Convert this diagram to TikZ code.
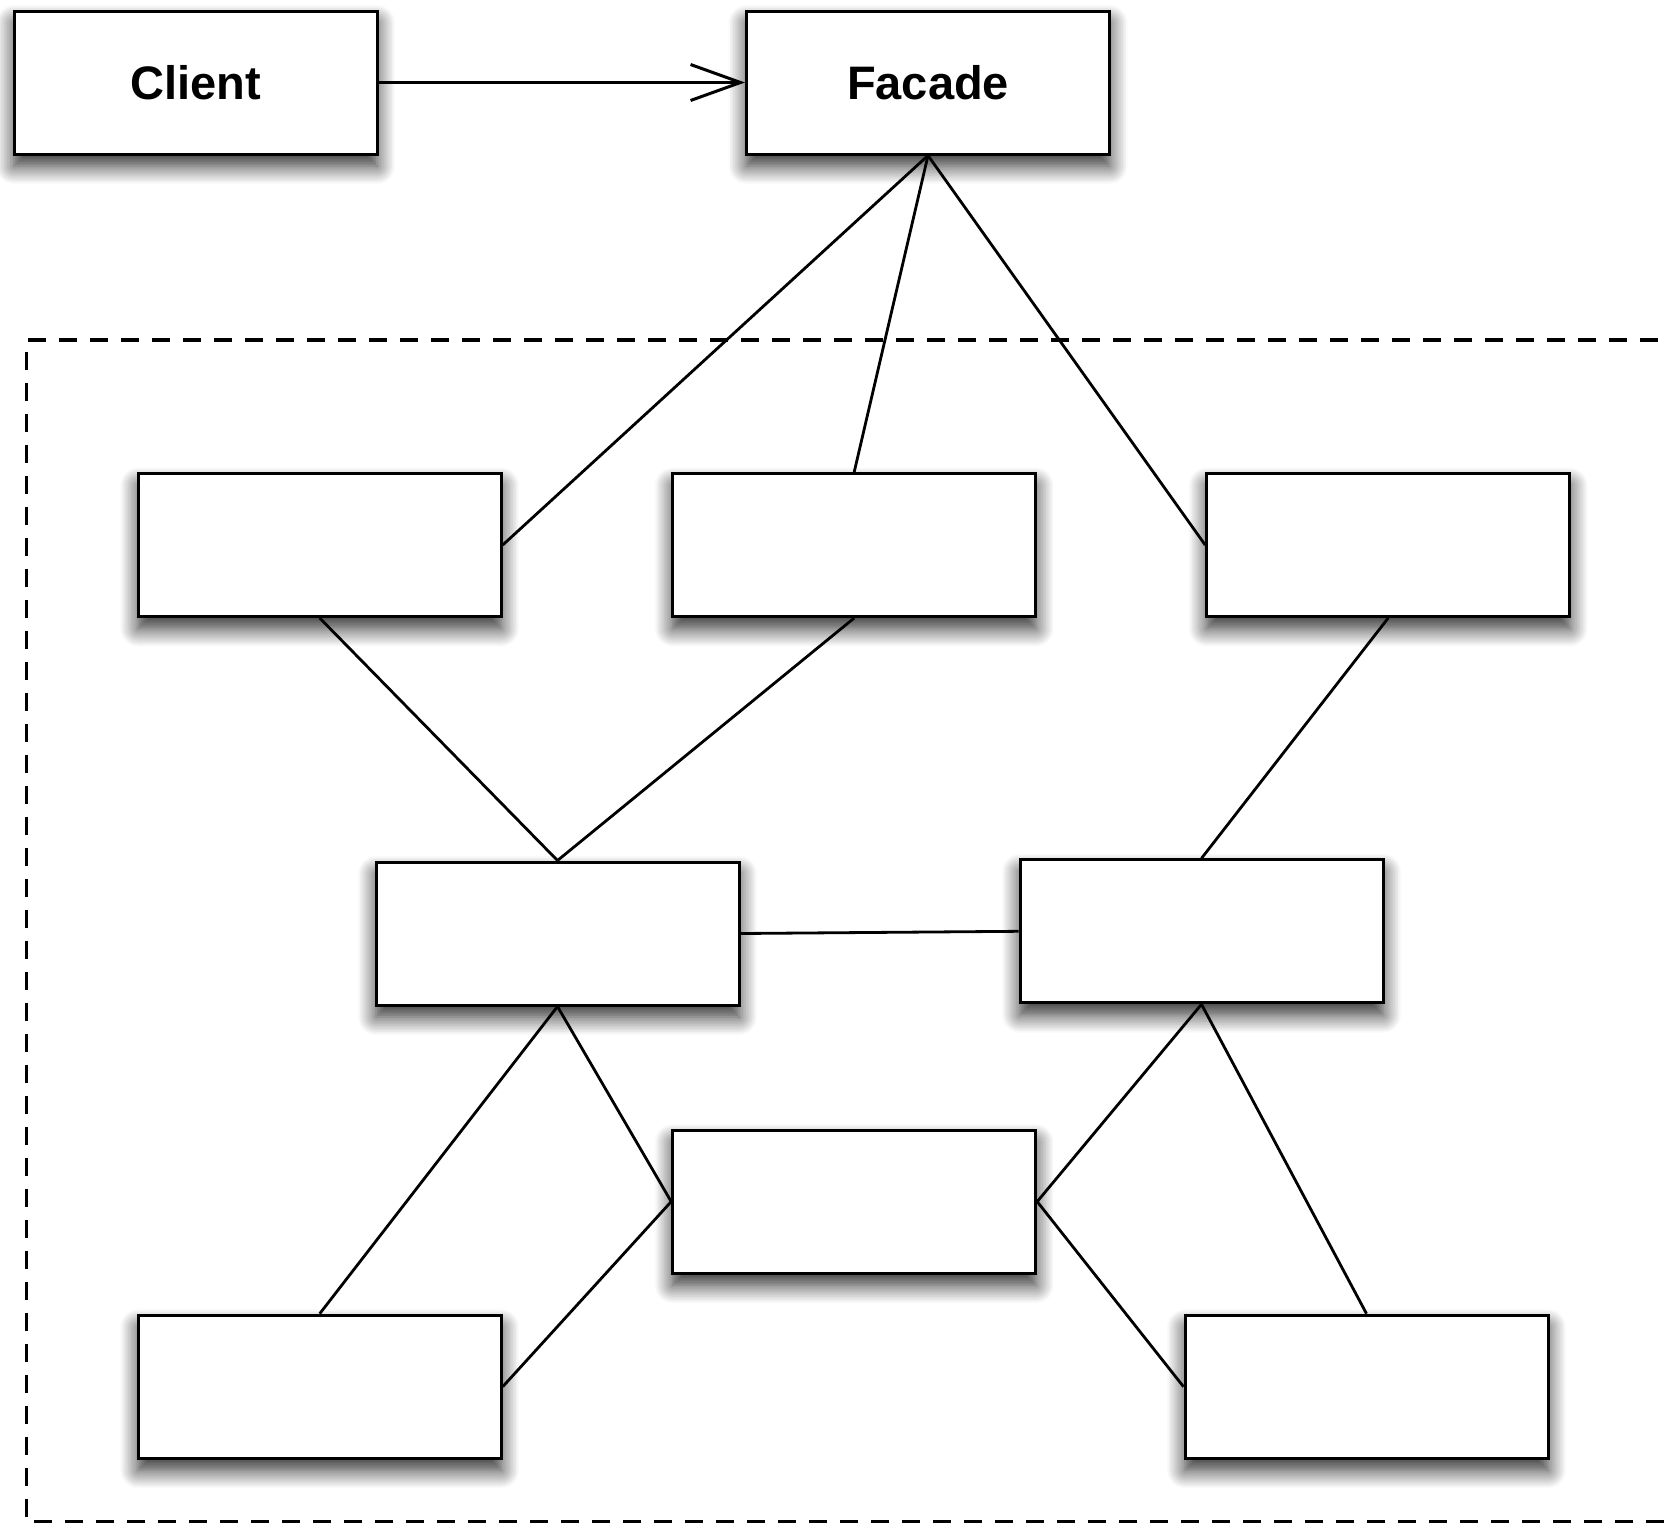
\documentclass[tikz,border=0pt]{standalone}
\usepackage{fontspec}
\setmainfont{Liberation Sans}
\usetikzlibrary{arrows.meta,shadows.blur}
\begin{document}
\begin{tikzpicture}[x=1pt,y=-1pt,
  box/.style={draw, line width=3pt, fill=white, minimum width=363pt, minimum height=143pt,
    inner sep=0pt, font=\fontsize{47}{50}\selectfont\bfseries,
    blur shadow={shadow xshift=0pt, shadow yshift=-12pt, shadow blur radius=18pt, shadow blur steps=12, shadow opacity=85}},
  link/.style={line width=2.8pt},
  frame/.style={line width=3.5pt, dash pattern=on 18pt off 13pt}]
\useasboundingbox (0,0) rectangle (1668,1523);
\draw[frame] (1720,340) -- (26.7,340) -- (26.7,1522) -- (1720,1522);
\node[box] (client) at (195.5,82.5) {Client};
\node[box] (facade) at (928,82.5) {Facade};
\node[box] (a) at (319.7,545) {};
\node[box] (b) at (854.2,545) {};
\node[box] (c) at (1388.2,545) {};
\node[box] (d) at (557.5,933.5) {};
\node[box] (e) at (1201.5,931.3) {};
\node[box] (f) at (854.2,1201.6) {};
\node[box] (g) at (319.7,1386.7) {};
\node[box] (h) at (1366.5,1386.7) {};
\draw[link, -{Straight Barb[length=50pt, width=36pt, line width=3pt]}] (client.east) -- (facade.west);
\draw[link] (facade.south) -- (a.east);
\draw[link] (facade.south) -- (b.north);
\draw[link] (facade.south) -- (c.west);
\draw[link] (a.south) -- (d.north);
\draw[link] (b.south) -- (d.north);
\draw[link] (c.south) -- (e.north);
\draw[link] (d.east) -- (e.west);
\draw[link] (d.south) -- (g.north);
\draw[link] (d.south) -- (f.west);
\draw[link] (e.south) -- (f.east);
\draw[link] (e.south) -- (h.north);
\draw[link] (g.east) -- (f.west);
\draw[link] (h.west) -- (f.east);
\end{tikzpicture}
\end{document}
